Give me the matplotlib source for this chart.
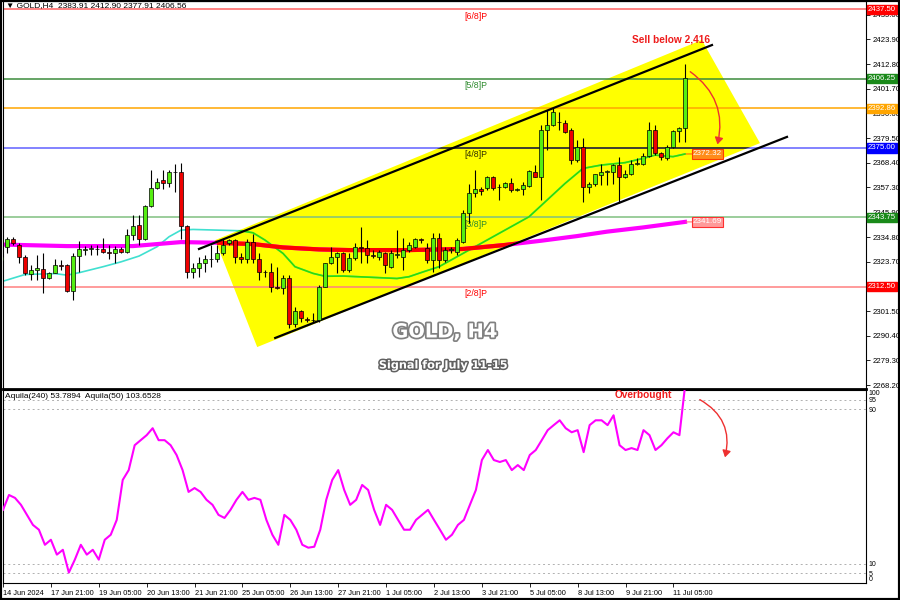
import numpy as np
import matplotlib
matplotlib.use("Agg")
import matplotlib.pyplot as plt
from matplotlib.patches import Polygon, Rectangle, FancyArrowPatch
import matplotlib.patheffects as pe

# ---- candles (H4 bars, index 0 = 14 Jun 13:00) ----
opens = [2324.5, 2330.2, 2333.8, 2331.5, 2326.0, 2318.2, 2320.0, 2320.6, 2316.5, 2318.8,
         2322.2, 2322.1, 2310.7, 2326.3, 2329.0, 2329.3, 2329.7, 2329.3, 2328.0, 2327.9,
         2329.7, 2328.2, 2336.0, 2340.2, 2334.1, 2348.9, 2357.0, 2360.4, 2359.3, 2364.2,
         2364.0, 2339.9, 2318.9, 2321.0, 2323.3, 2324.9, 2324.8, 2327.5, 2332.0, 2333.5,
         2325.7, 2324.8, 2332.7, 2325.2, 2319.2, 2318.9, 2312.5, 2311.7, 2316.2, 2295.5,
         2301.6, 2297.8, 2297.4, 2297.4, 2312.5, 2323.0, 2325.7, 2327.5, 2320.0, 2325.3,
         2330.5, 2329.8, 2326.8, 2326.0, 2327.5, 2321.5, 2327.0, 2326.0, 2329.0, 2330.5,
         2333.8, 2329.8, 2324.5, 2334.3, 2324.5, 2329.0, 2328.3, 2332.8, 2345.5, 2354.5,
         2356.3, 2356.8, 2362.0, 2357.5, 2357.3, 2359.3, 2356.0, 2356.3, 2357.8, 2364.3,
         2362.0, 2383.1, 2385.3, 2386.8, 2386.4, 2383.1, 2369.5, 2375.6, 2357.5, 2358.8,
         2363.0, 2364.3, 2364.3, 2367.3, 2361.8, 2363.3, 2368.0, 2367.8, 2371.4, 2383.1,
         2372.8, 2370.3, 2375.6, 2382.6, 2383.91]
highs = [2327.5, 2335.0, 2335.0, 2332.0, 2326.7, 2322.2, 2326.7, 2327.5, 2319.2, 2324.8,
         2324.5, 2322.6, 2327.5, 2333.0, 2330.8, 2331.2, 2331.2, 2334.5, 2331.2, 2330.8,
         2330.2, 2338.7, 2344.7, 2344.7, 2349.2, 2365.0, 2361.3, 2365.0, 2365.0, 2368.0,
         2368.3, 2340.2, 2323.0, 2326.0, 2326.7, 2331.2, 2331.2, 2334.2, 2334.2, 2334.2,
         2327.5, 2333.8, 2336.4, 2327.5, 2320.0, 2323.3, 2321.5, 2317.7, 2317.7, 2303.4,
         2302.0, 2298.9, 2300.7, 2313.2, 2323.3, 2330.5, 2328.2, 2328.3, 2327.5, 2332.0,
         2339.5, 2333.5, 2329.0, 2329.0, 2328.3, 2329.0, 2338.0, 2334.3, 2332.8, 2334.3,
         2334.5, 2332.0, 2336.5, 2336.5, 2330.5, 2330.5, 2334.3, 2347.0, 2359.0, 2365.0,
         2357.5, 2362.3, 2362.3, 2359.0, 2359.8, 2361.5, 2356.8, 2359.8, 2365.0, 2367.5,
         2385.3, 2392.1, 2392.8, 2391.3, 2387.6, 2383.8, 2378.6, 2379.3, 2359.8, 2363.5,
         2368.0, 2365.0, 2368.0, 2371.1, 2365.0, 2369.5, 2370.3, 2372.6, 2386.8, 2385.3,
         2373.3, 2376.3, 2383.1, 2384.6, 2412.90]
lows = [2323.0, 2327.8, 2331.2, 2323.3, 2317.7, 2315.5, 2315.5, 2309.7, 2315.8, 2318.5,
        2320.0, 2310.2, 2306.4, 2319.2, 2326.7, 2326.7, 2326.7, 2327.5, 2325.2, 2323.3,
        2327.8, 2327.9, 2333.5, 2331.2, 2333.5, 2348.5, 2356.7, 2356.7, 2357.5, 2355.2,
        2334.2, 2316.2, 2316.5, 2317.0, 2319.2, 2321.5, 2323.7, 2326.7, 2331.2, 2323.0,
        2323.0, 2323.0, 2323.0, 2315.5, 2317.0, 2310.2, 2311.3, 2309.4, 2293.7, 2294.4,
        2296.7, 2296.7, 2296.7, 2296.7, 2312.2, 2322.7, 2318.5, 2319.3, 2319.3, 2324.5,
        2323.0, 2323.0, 2325.5, 2324.5, 2318.5, 2320.8, 2325.3, 2320.0, 2328.3, 2330.0,
        2332.0, 2323.0, 2319.3, 2320.8, 2323.8, 2327.5, 2326.8, 2332.0, 2341.0, 2353.0,
        2353.8, 2356.0, 2356.0, 2351.5, 2356.8, 2355.3, 2355.5, 2353.8, 2357.5, 2361.8,
        2351.5, 2374.1, 2384.8, 2383.1, 2381.6, 2368.0, 2368.8, 2350.8, 2354.5, 2358.0,
        2358.3, 2358.3, 2359.0, 2350.0, 2361.3, 2362.8, 2367.3, 2367.3, 2371.1, 2371.8,
        2369.5, 2369.8, 2374.8, 2377.8, 2377.91]
closes = [2326.0, 2333.8, 2332.3, 2326.0, 2318.5, 2320.0, 2320.9, 2316.5, 2318.8, 2322.2,
          2322.0, 2310.7, 2326.4, 2329.3, 2329.5, 2329.8, 2329.3, 2328.0, 2327.8, 2329.7,
          2328.2, 2336.0, 2339.8, 2334.2, 2348.9, 2357.0, 2359.8, 2359.3, 2364.2, 2364.0,
          2339.9, 2318.9, 2321.0, 2323.3, 2324.9, 2325.2, 2327.5, 2331.5, 2333.5, 2325.7,
          2324.8, 2332.7, 2325.2, 2319.2, 2318.9, 2312.5, 2311.7, 2316.2, 2295.9, 2301.6,
          2298.2, 2297.6, 2297.6, 2312.5, 2323.0, 2326.0, 2327.5, 2320.0, 2325.3, 2330.5,
          2330.0, 2326.8, 2326.5, 2328.0, 2322.3, 2327.5, 2327.3, 2329.0, 2331.3, 2333.8,
          2333.5, 2324.5, 2334.3, 2324.5, 2329.0, 2329.3, 2333.5, 2345.5, 2354.5, 2356.3,
          2355.8, 2362.0, 2356.8, 2357.3, 2359.3, 2356.0, 2356.2, 2358.3, 2364.8, 2362.0,
          2383.1, 2385.3, 2391.3, 2386.6, 2382.3, 2369.5, 2375.6, 2357.5, 2359.0, 2363.1,
          2364.3, 2364.6, 2367.3, 2362.0, 2363.5, 2368.0, 2368.3, 2371.4, 2383.1, 2372.6,
          2371.1, 2375.6, 2382.6, 2383.8, 2406.56]

# moving averages (bar index, price)
ma_fast_x = [0, 4, 9, 11, 13, 17, 20, 23, 26, 28, 30, 32, 36, 40, 42, 44, 47, 49, 52, 54,
             57, 62, 66, 68, 70.5, 73, 77, 80, 84, 88, 91, 94, 97, 100, 104, 107, 109, 112, 114]
ma_fast_y = [2314.7, 2318.0, 2318.4, 2317.7, 2318.8, 2321.5, 2323.7, 2326.3, 2330.5, 2335.0,
             2338.0, 2338.3, 2338.0, 2337.7, 2336.8, 2333.5, 2327.5, 2321.5, 2318.5, 2317.2,
             2317.3, 2316.7, 2316.2, 2317.0, 2319.3, 2321.5, 2327.5, 2332.0, 2338.0, 2344.0,
             2351.5, 2359.0, 2365.8, 2367.3, 2368.4, 2370.3, 2371.8, 2371.1, 2372.3]
ma_slow_x = [0, 11, 22, 30, 36, 42, 47, 53, 58, 68, 77, 84, 90, 96, 101, 107, 114]
ma_slow_y = [2331.5, 2330.8, 2330.8, 2332.6, 2332.3, 2331.7, 2330.2, 2329.3, 2329.0, 2329.0,
             2329.5, 2331.3, 2333.2, 2335.3, 2337.3, 2339.2, 2341.7]

# oscillator Aquila(50)
osc = [37.9, 45.6, 44.1, 40.5, 35.3, 30.1, 27.6, 19.8, 22.4, 14.7,
       17.2, 5.4, 12.1, 19.8, 14.7, 17.2, 12.1, 22.4, 25.0, 32.7,
       53.4, 58.5, 71.4, 74.0, 76.6, 80.2, 74.0, 74.0, 71.4, 66.3,
       58.5, 47.2, 49.2, 47.2, 43.1, 40.5, 35.3, 33.7, 37.9, 43.1,
       47.2, 43.1, 44.1, 43.1, 32.7, 25.0, 19.8, 35.3, 32.7, 27.6,
       19.8, 18.3, 18.8, 27.6, 43.1, 53.4, 58.5, 48.2, 40.5, 43.1,
       50.8, 48.2, 37.9, 30.1, 40.5, 37.9, 32.7, 27.6, 27.6, 32.7,
       35.3, 37.9, 32.7, 27.6, 22.4, 25.0, 30.1, 32.7, 40.5, 48.2,
       63.7, 68.9, 63.7, 62.7, 63.7, 58.5, 61.1, 58.5, 66.3, 68.9,
       74.0, 79.2, 81.8, 84.3, 80.2, 78.1, 79.2, 67.8, 81.8, 84.3,
       84.3, 81.8, 86.9, 71.4, 68.9, 69.9, 68.9, 79.2, 76.6, 68.9,
       71.4, 75.0, 78.1, 76.6, 103.65]

# murrey math levels
levels = [2437.50, 2406.25, 2392.86, 2375.00, 2343.75, 2312.50]
level_names = ["[6/8]P", "[5/8]P", "", "[4/8]P", "[3/8]P", "[2/8]P"]
level_line_colors = ["#ff6060", "#3c8c3c", "#ffa500", "#6060ff", "#80c080", "#ff8080"]
level_box_colors = ["#ff0000", "#1a8a1a", "#ffa500", "#0000ff", "#1a8a1a", "#ff0000"]
level_text_colors = ["#ff0000", "#2e8b2e", None, "#303000", "#2e8b2e", "#ff0000"]

price_ticks = [2435.00, 2423.90, 2412.80, 2401.70, 2390.60, 2379.50, 2368.40, 2357.30,
               2345.90, 2334.80, 2323.70, 2301.50, 2290.40, 2279.30, 2268.20]
date_pos = [0, 8, 16, 24, 32, 40, 48, 56, 64, 72, 80, 88, 96, 104, 112]
date_labels = ["14 Jun 2024", "17 Jun 21:00", "19 Jun 05:00", "20 Jun 13:00", "21 Jun 21:00",
               "25 Jun 05:00", "26 Jun 13:00", "27 Jun 21:00", "1 Jul 05:00", "2 Jul 13:00",
               "3 Jul 21:00", "5 Jul 05:00", "8 Jul 13:00", "9 Jul 21:00", "11 Jul 05:00"]

# channel drawn on the chart (bar index, price)
chan_upper = [(33.0, 2329.5), (118.5, 2421.4)]
chan_lower = [(45.7, 2289.4), (131.0, 2380.0)]
box_corners = [(35.7, 2333.5), (116.8, 2423.7), (126.5, 2377.2), (42.7, 2285.3)]

osc_levels = [95, 90, 10, 5]
osc_ticks = [100, 95, 90, 10, 5, 0]

plt.rcParams["font.family"] = ["Liberation Sans", "DejaVu Sans"]
fig = plt.figure(figsize=(9, 6), dpi=100)
ax = fig.add_axes([3/900, 211/600, 863/900, 388/600])
ax2 = fig.add_axes([3/900, 17/600, 863/900, 193/600])

n = len(opens)
x = np.arange(n)
o = np.array(opens); c = np.array(closes)
h = np.array(highs); l = np.array(lows)

ax.set_xlim(0.33, 144.17)
ax.set_ylim(2266.4, 2441.24)

# yellow channel box
poly = Polygon(box_corners, closed=True, facecolor="#ffff00", edgecolor="none", zorder=1)
ax.add_patch(poly)

# horizontal levels
for lv, nm, lc, bc, tc in zip(levels, level_names, level_line_colors, level_box_colors, level_text_colors):
    ax.axhline(lv, color=lc, lw=1.1, zorder=2)
    if nm:
        ax.text(77.3, lv - 1.0, nm, color=tc, fontsize=6.3, va="top", ha="left", zorder=6)
    ax.text(1.002, lv, f"{lv:.2f}", transform=ax.get_yaxis_transform(), color="white",
            fontsize=5.6, va="center", ha="left", zorder=10, clip_on=False,
            bbox=dict(boxstyle="square,pad=0.15", facecolor=bc, edgecolor=bc))
# blue line looks dark inside the yellow box
ln = ax.axhline(levels[3], color="#303000", lw=1.1, zorder=3)
ln.set_clip_path(poly)

# moving averages
ax.plot(ma_fast_x, ma_fast_y, color="#40e0d0", lw=1.2, zorder=2)
ln, = ax.plot(ma_fast_x, ma_fast_y, color="#33dd00", lw=1.2, zorder=3)
ln.set_clip_path(poly)
ax.plot(ma_slow_x, ma_slow_y, color="#ff00ff", lw=3, zorder=2)
ln, = ax.plot(ma_slow_x, ma_slow_y, color="#ff0000", lw=3, zorder=3)
ln.set_clip_path(poly)

# channel lines
ax.plot(*zip(*chan_upper), color="black", lw=1.6, zorder=5)
ax.plot(*zip(*chan_lower), color="black", lw=1.6, zorder=5)

# candles
up = c >= o
ax.vlines(x, l, h, color="black", lw=0.8, zorder=6)
body = np.maximum(np.abs(c - o), 0.3)
ax.bar(x, body, bottom=np.minimum(o, c), width=0.72,
       color=np.where(up, "#55ee11", "#ee0000"), edgecolor="black", linewidth=0.5, zorder=7)

# MA end labels
ax.plot([114.2, 115.2], [ma_fast_y[-1], 2372.32], color="#ff6a00", lw=0.8, zorder=6)
ax.text(115.3, 2372.32, "2372.32", color="white", fontsize=5.8, va="center", ha="left", zorder=8,
        bbox=dict(boxstyle="square,pad=0.15", facecolor="#ff8c1a", edgecolor="#ff3c00", lw=0.8))
ax.plot([114.2, 115.2], [ma_slow_y[-1], 2341.69], color="#ff7070", lw=0.8, zorder=6)
ax.text(115.3, 2341.69, "2341.69", color="white", fontsize=5.8, va="center", ha="left", zorder=8,
        bbox=dict(boxstyle="square,pad=0.15", facecolor="#ff9a9a", edgecolor="#ff3030", lw=0.8))

# annotations
ax.text(111.7, 2423.7, "Sell below 2,416", color="#ee1c1c", fontsize=7.3, fontweight="bold",
        ha="center", va="center", zorder=9)
ax.add_patch(FancyArrowPatch((114.5, 2410.1), (119.3, 2375.4), connectionstyle="arc3,rad=-0.35",
                             arrowstyle="-|>,head_length=4,head_width=2.5", color="#ee3030",
                             lw=1.0, zorder=9))
ax.text(74.0, 2292.1, "GOLD, H4", color="white", fontsize=14, fontweight="bold", ha="center",
        va="center", zorder=9, family="DejaVu Sans",
        path_effects=[pe.withStroke(linewidth=2.5, foreground="#808080")])
ax.text(73.8, 2277.0, "Signal for July 11-15", color="white", fontsize=8.1, fontweight="bold",
        ha="center", va="center", zorder=9, family="DejaVu Sans",
        path_effects=[pe.withStroke(linewidth=2.2, foreground="#606060")])
ax.text(0.003, 0.997, "\u25bc GOLD,H4  2383.91 2412.90 2377.91 2406.56", transform=ax.transAxes,
        fontsize=6.0, va="top", ha="left", zorder=10)

ax.yaxis.tick_right()
ax.set_yticks(price_ticks)
ax.set_yticklabels([f"{p:.2f}" for p in price_ticks], fontsize=5.6)
ax.tick_params(axis="y", length=3, width=0.6, pad=1.5)
ax.set_xticks([])
for s in ax.spines.values():
    s.set_linewidth(0.8)
ax.spines["bottom"].set_linewidth(2)

# oscillator panel
ax2.set_xlim(0.33, 144.17)
ax2.set_ylim(0, 99.8)
for lv in osc_levels:
    ax2.axhline(lv, color="#b0b0b0", lw=0.7, ls=(0, (2, 3)), zorder=1)
ax2.plot(x, osc, color="#ff00ff", lw=1.5, zorder=3)
ax2.text(0.002, 0.985, "Aquila(240) 53.7894  Aquila(50) 103.6528", transform=ax2.transAxes,
         fontsize=6.0, va="top", ha="left", zorder=5)
ax2.text(107, 97.2, "Overbought", color="#ee1c1c", fontsize=7.3, fontweight="bold",
         ha="center", va="center", zorder=5)
ax2.add_patch(FancyArrowPatch((116.0, 95.7), (120.5, 63.7), connectionstyle="arc3,rad=-0.4",
                              arrowstyle="-|>,head_length=4,head_width=2.5", color="#ee3030",
                              lw=1.0, zorder=5))
ax2.yaxis.tick_right()
ax2.set_yticks(osc_ticks)
ax2.set_yticklabels([str(t) for t in osc_ticks], fontsize=5.0)
ax2.tick_params(axis="y", length=0, pad=2)
yl = ax2.get_yticklabels()
yl[0].set_va("top")
yl[-1].set_va("bottom")
ax2.set_xticks(date_pos)
ax2.set_xticklabels(date_labels, fontsize=5.3, ha="left")
ax2.tick_params(axis="x", length=3, width=0.6, pad=2)
for s in ax2.spines.values():
    s.set_linewidth(0.8)

fig.patches.append(Rectangle((0, 0), 1, 1, transform=fig.transFigure, fill=False,
                             edgecolor="black", lw=3))
fig.savefig("out.png", dpi=100)
